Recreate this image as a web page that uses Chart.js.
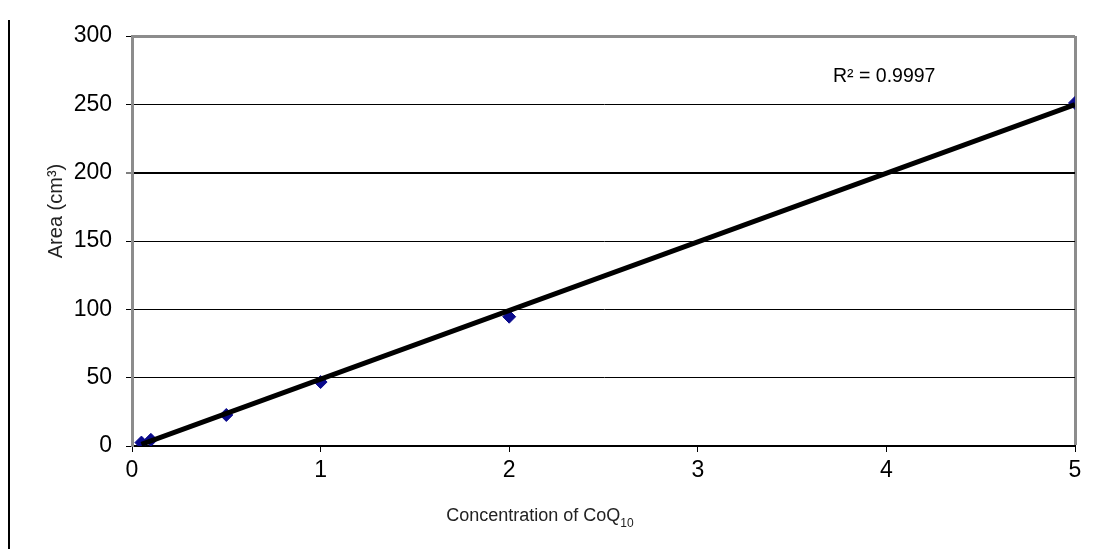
<!DOCTYPE html>
<html>
<head>
<meta charset="utf-8">
<script src="https://cdn.jsdelivr.net/npm/chart.js@4/dist/chart.umd.min.js"></script>
<style>
  html, body { margin: 0; padding: 0; background: #fff; }
  .wrap { position: relative; width: 1096px; height: 549px; }
  .edge { position: absolute; left: 8px; top: 20px; width: 2px; height: 529px; background: #000; }
</style>
</head>
<body>
<div class="wrap">
  <div class="edge"></div>
  <canvas id="coqChart" width="1096" height="549"></canvas>
</div>
<script>
// measured points (concentration vs area)
const concentration = [0.05, 0.1, 0.5, 1, 2, 5];
const area = [2.5, 4.5, 22.7, 46.8, 94.6, 251];

// trendline ends
const trendX = [0.05, 5];
const trendY = [1.2, 249.8];

const xTicks = [0, 1, 2, 3, 4, 5];
const yTicks = [0, 50, 100, 150, 200, 250, 300];
const rSquared = "R² = 0.9997";

const FONT = "'Liberation Sans', Arial, sans-serif";

const textPlugin = {
    id: "textPlugin",
    afterDraw(chart) {
        const ctx = chart.ctx;
        ctx.save();
        ctx.fillStyle = "#000";

        // R² label
        ctx.font = "19.5px " + FONT;
        ctx.textBaseline = "middle";
        ctx.textAlign = "left";
        ctx.fillText(rSquared, 833, 77);

        // x title with subscript
        const main = "Concentration of CoQ";
        const sub = "10";
        ctx.font = "18px " + FONT;
        const w1 = ctx.measureText(main).width;
        ctx.font = "12px " + FONT;
        const w2 = ctx.measureText(sub).width;
        let x0 = 540 - (w1 + w2) / 2;
        ctx.textAlign = "left";
        ctx.textBaseline = "alphabetic";
        ctx.font = "18px " + FONT;
        ctx.fillStyle = "#222";
        ctx.fillText(main, x0, 521);
        ctx.font = "12px " + FONT;
        ctx.fillText(sub, x0 + w1, 527);

        // y title
        ctx.translate(56, 211);
        ctx.rotate(-Math.PI / 2);
        ctx.textAlign = "center";
        ctx.textBaseline = "middle";
        ctx.font = "20px " + FONT;
        ctx.fillText("Area (cm³)", 0, 0);
        ctx.restore();
    }
};

const ctx = document.getElementById("coqChart").getContext("2d");

window.coqChart = new Chart(ctx, {
    type: "scatter",
    data: {
        datasets: [
            {
                type: "line",
                data: trendX.map((x, i) => ({ x: x, y: trendY[i] })),
                borderColor: "#000",
                borderWidth: 5,
                pointRadius: 0,
                order: 0,
            },
            {
                data: concentration.map((x, i) => ({ x: x, y: area[i] })),
                backgroundColor: "#0a0a8c",
                borderColor: "#0a0a8c",
                pointStyle: "rectRot",
                pointRadius: 6.5,
                order: 1,
            },
        ],
    },
    options: {
        responsive: false,
        animation: false,
        layout: {
            padding: { left: 0, right: 21, top: 36, bottom: 0 },
        },
        plugins: {
            legend: { display: false },
            tooltip: { enabled: false },
        },
        scales: {
            x: {
                type: "linear",
                min: 0,
                max: 5,
                afterFit: (scale) => { scale.height = 103; },
                afterBuildTicks: (scale) => {
                    scale.ticks = xTicks.map((v) => ({ value: v }));
                },
                grid: {
                    color: (c) => (c.tick && c.tick.value === 5 ? "#8c8c8c" : "rgba(0,0,0,0)"),
                    lineWidth: (c) => (c.tick && c.tick.value === 5 ? 3 : 1),
                    tickColor: "#000",
                    tickLength: 6,
                    tickWidth: 1,
                },
                border: { color: "#000", width: 2 },
                ticks: {
                    color: "#000",
                    padding: 5,
                    font: { family: FONT, size: 23 },
                },
            },
            y: {
                min: 0,
                max: 300,
                afterFit: (scale) => { scale.width = 132; },
                afterBuildTicks: (scale) => {
                    scale.ticks = yTicks.map((v) => ({ value: v }));
                },
                grid: {
                    color: (c) => (c.tick && c.tick.value === 300 ? "#8c8c8c" : "#000"),
                    lineWidth: (c) => {
                        if (!c.tick) return 1;
                        if (c.tick.value === 300) return 3;
                        if (c.tick.value === 200) return 2;
                        return 1;
                    },
                    tickColor: "#000",
                    tickLength: 6,
                    tickWidth: 1,
                },
                border: { color: "#8c8c8c", width: 3 },
                ticks: {
                    color: "#000",
                    padding: 14,
                    font: { family: FONT, size: 23 },
                },
            },
        },
    },
    plugins: [textPlugin],
});
</script>
</body>
</html>
